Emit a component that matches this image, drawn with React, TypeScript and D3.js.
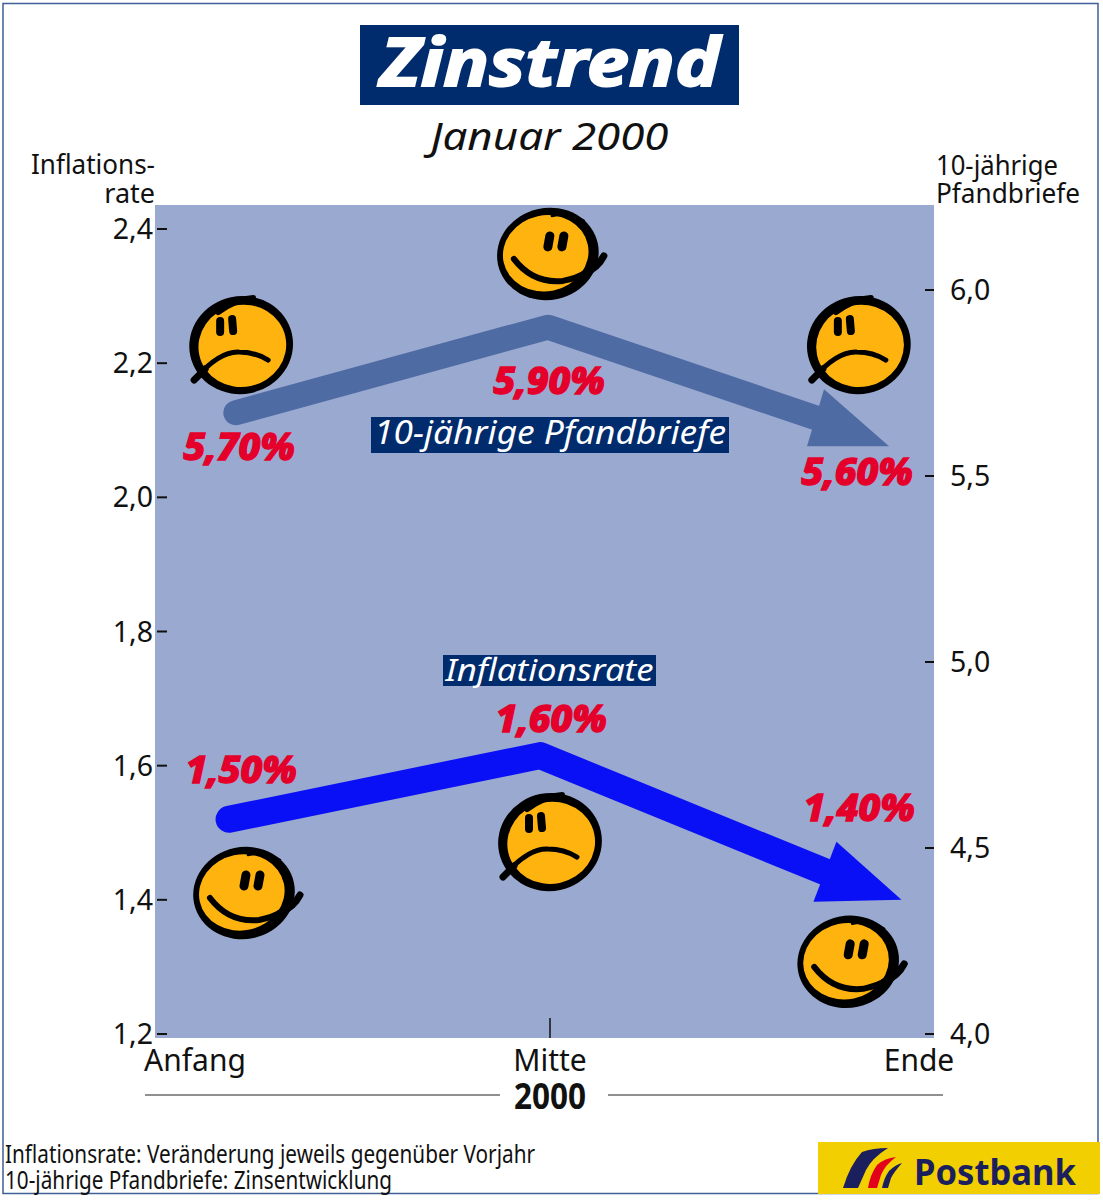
import React from "react";
import * as d3 from "d3";

const categories = ["Anfang", "Mitte", "Ende"];
const leftTicks = [2.4, 2.2, 2.0, 1.8, 1.6, 1.4, 1.2];
const rightTicks = [6.0, 5.5, 5.0, 4.5, 4.0];

// Printed values
const bondLabels = ["5,70%", "5,90%", "5,60%"];
const inflationLabels = ["1,50%", "1,60%", "1,40%"];

// Where the arrows sit (axis units)
const bondArrowX = [0.115, 0.994, 1.955];
const bondArrowY = [5.67, 5.9, 5.58];
const inflationArrowX = [0.096, 0.972, 1.99];
const inflationArrowY = [1.52, 1.615, 1.40];

// Smileys (x category units, y right-axis units)
const smileyMood = ["sad", "happy", "sad", "happy", "sad", "happy"];
const smileyX = [0.13, 0.994, 1.87, 0.138, 1.0, 1.84];
const smileyY = [5.852, 6.097, 5.852, 4.379, 4.516, 4.194];

const FONT = "'Noto Sans', 'Open Sans', sans-serif";
const NAVY = "#002b6c";
const RED = "#e4002b";

const x = d3.scaleLinear().domain([0, 2]).range([195, 905]);
const yL = d3.scaleLinear().domain([1.2, 2.4]).range([1034, 229]);
const yR = d3.scaleLinear().domain([4, 6]).range([1034, 290]);
const line = d3.line<[number, number]>();

function Smiley({ cx, cy, mood }: { cx: number; cy: number; mood: string }) {
  const sad = mood === "sad";
  return (
    <g transform={`translate(${cx},${cy})`}>
      <ellipse cx={0} cy={0} rx={sad ? 52 : 51} ry={sad ? 49 : 46} fill="#000" transform="rotate(-12)" />
      <ellipse cx={sad ? 1 : -2} cy={sad ? 1 : -1} rx={sad ? 44 : 43} ry={sad ? 41 : 38} fill="#ffb30f" transform="rotate(-12)" />
      {sad ? (
        <g fill="none" stroke="#000" strokeLinecap="round">
          <path d="M-46,34 Q-22,6 -2,7 Q14,7 27,15" strokeWidth={5} />
          <path d="M-47,35 L-36,24" strokeWidth={7} />
          <path d="M-23,-33 Q-5,-46 12,-47" strokeWidth={6} />
          <path d="M-21,-24 L-21,-13" strokeWidth={8} />
          <path d="M-9,-26 L-8,-14" strokeWidth={8} />
        </g>
      ) : (
        <g fill="none" stroke="#000" strokeLinecap="round">
          <path d="M-34,5 Q-15,30 15,27 Q42,22 56,2" strokeWidth={6} />
          <path d="M36,20 Q50,14 56,2" strokeWidth={7} />
          <path d="M4,-38 Q22,-42 36,-33" strokeWidth={2.5} />
          <path d="M2,-18 L0,-7" strokeWidth={9} />
          <path d="M16,-18 L14,-7" strokeWidth={9} />
        </g>
      )}
    </g>
  );
}

function Arrow({ pts, color, width, head }: { pts: [number, number][]; color: string; width: number; head: [number, number][] }) {
  const tip = pts[pts.length - 1];
  const base: [number, number] = [(head[0][0] + head[1][0]) / 2 + tip[0], (head[0][1] + head[1][1]) / 2 + tip[1]];
  const shaft = [pts[0], pts[1], base] as [number, number][];
  const tri = [tip, [tip[0] + head[0][0], tip[1] + head[0][1]], [tip[0] + head[1][0], tip[1] + head[1][1]]] as [number, number][];
  return (
    <g>
      <path d={line(shaft)!} fill="none" stroke={color} strokeWidth={width} strokeLinecap="round" strokeLinejoin="round" />
      <path d={line(tri)! + "Z"} fill={color} />
    </g>
  );
}

function ValueLabel({ px, py, text }: { px: number; py: number; text: string }) {
  return (
    <text x={px} y={py} textAnchor="middle" fontFamily={FONT} fontSize={37} fontWeight={800} fontStyle="italic"
      fill={RED} stroke={RED} strokeWidth={1.4} textLength={111} lengthAdjust="spacingAndGlyphs">{text}</text>
  );
}

export default function App() {
  const bondPts = bondArrowX.map((v, i) => [x(v), yR(bondArrowY[i])] as [number, number]);
  const inflPts = inflationArrowX.map((v, i) => [x(v), yL(inflationArrowY[i])] as [number, number]);
  const bondLabelDy = [47, 67, 39];
  const bondLabelX = [239, 549, 857];
  const inflLabelDy = [-36, -24, -79];
  const inflLabelX = [241, 551, 859];
  const t = { fontFamily: FONT, fontSize: 28.5, fill: "#111" };
  const s = { ...t, fontSize: 27 };
  return (
    <svg width={1103} height={1200} style={{ position: "absolute", left: 0, top: 0, background: "#fff" }}>
      <rect x={3} y={3.5} width={1095} height={1190} fill="#fff" stroke="#3f5f96" strokeWidth={1.5} />

      <rect x={360} y={25} width={379} height={80} fill={NAVY} />
      <text x={550} y={86} textAnchor="middle" fontFamily={FONT} fontSize={66} fontWeight={700} fontStyle="italic"
        fill="#fff" stroke="#fff" strokeWidth={2} textLength={340} lengthAdjust="spacingAndGlyphs">Zinstrend</text>
      <text x={549.5} y={150} textAnchor="middle" fontFamily={FONT} fontSize={39} fontStyle="italic" fill="#111"
        textLength={238} lengthAdjust="spacingAndGlyphs">Januar 2000</text>

      <rect x={155} y={205} width={779} height={833} fill="#9aa9cf" />

      <text {...s} x={155} y={174} textAnchor="end" textLength={124} lengthAdjust="spacingAndGlyphs">Inflations-</text>
      <text {...s} x={155} y={203} textAnchor="end">rate</text>
      <text {...s} x={936} y={175} textLength={122} lengthAdjust="spacingAndGlyphs">10-jährige</text>
      <text {...s} x={936} y={203} textLength={144} lengthAdjust="spacingAndGlyphs">Pfandbriefe</text>

      {leftTicks.map((v) => (
        <g key={v}>
          <line x1={157} x2={167} y1={yL(v)} y2={yL(v)} stroke="#111" strokeWidth={2} />
          <text {...t} x={153} y={yL(v) + 10} textAnchor="end">{d3.format(".1f")(v).replace(".", ",")}</text>
        </g>
      ))}
      {rightTicks.map((v) => (
        <g key={v}>
          <line x1={925} x2={934} y1={yR(v)} y2={yR(v)} stroke="#111" strokeWidth={2} />
          <text {...t} x={950} y={yR(v) + 10}>{d3.format(".1f")(v).replace(".", ",")}</text>
        </g>
      ))}
      <line x1={550} x2={550} y1={1018} y2={1038} stroke="#111" strokeWidth={1.5} />

      <Arrow pts={bondPts} color="#4f6ba3" width={25} head={[[-82, 0], [-65, -57]]} />
      <Arrow pts={inflPts} color="#0a10f5" width={27} head={[[-88, 2], [-65, -58]]} />

      {smileyMood.map((m, i) => (
        <Smiley key={i} mood={m} cx={x(smileyX[i])} cy={yR(smileyY[i])} />
      ))}

      {bondLabels.map((l, i) => (
        <ValueLabel key={l} text={l} px={bondLabelX[i]} py={bondPts[i][1] + bondLabelDy[i]} />
      ))}
      {inflationLabels.map((l, i) => (
        <ValueLabel key={l} text={l} px={inflLabelX[i]} py={inflPts[i][1] + inflLabelDy[i]} />
      ))}

      <rect x={371} y={417} width={358} height={36} fill={NAVY} />
      <text x={550} y={444} textAnchor="middle" fontFamily={FONT} fontSize={33} fontStyle="italic" fill="#fff"
        textLength={352} lengthAdjust="spacingAndGlyphs">10-jährige Pfandbriefe</text>
      <rect x={443} y={655} width={213} height={31} fill={NAVY} />
      <text x={549.5} y={681} textAnchor="middle" fontFamily={FONT} fontSize={31} fontStyle="italic" fill="#fff"
        textLength={208} lengthAdjust="spacingAndGlyphs">Inflationsrate</text>

      {categories.map((c, i) => (
        <text key={c} {...t} fontSize={30} x={x(i)} y={1071} textAnchor="middle"
          dx={i === 2 ? 14 : 0}>{c}</text>
      ))}

      <line x1={145} x2={500} y1={1095} y2={1095} stroke="#222" strokeWidth={1.2} />
      <line x1={608} x2={943} y1={1095} y2={1095} stroke="#222" strokeWidth={1.2} />
      <text x={550} y={1109} textAnchor="middle" fontFamily={FONT} fontSize={35} fontWeight={700} fill="#111"
        textLength={72} lengthAdjust="spacingAndGlyphs">2000</text>

      <text {...t} fontSize={25} x={5} y={1163} textLength={530} lengthAdjust="spacingAndGlyphs">Inflationsrate: Veränderung jeweils gegenüber Vorjahr</text>
      <text {...t} fontSize={25} x={5} y={1189} textLength={387} lengthAdjust="spacingAndGlyphs">10-jährige Pfandbriefe: Zinsentwicklung</text>

      <rect x={818} y={1142} width={282} height={52} fill="#f2cf00" />
      <path d="M843,1188 Q850,1165 862,1152 Q873,1148 888,1148 Q872,1158 866,1170 L858,1188Z" fill="#1b1f5e" />
      <path d="M868,1188 Q870,1175 877,1165 Q885,1158 896,1157 Q885,1165 881,1175 L877,1188Z" fill="#e3001b" />
      <path d="M882,1188 Q884,1178 889,1171 Q895,1165 902,1163 Q894,1172 891,1178 L888,1188Z" fill="#1b1f5e" />
      <text x={914} y={1185} fontFamily={FONT} fontSize={36} fontWeight={700} fill="#1b1f5e"
        textLength={162} lengthAdjust="spacingAndGlyphs">Postbank</text>
    </svg>
  );
}
